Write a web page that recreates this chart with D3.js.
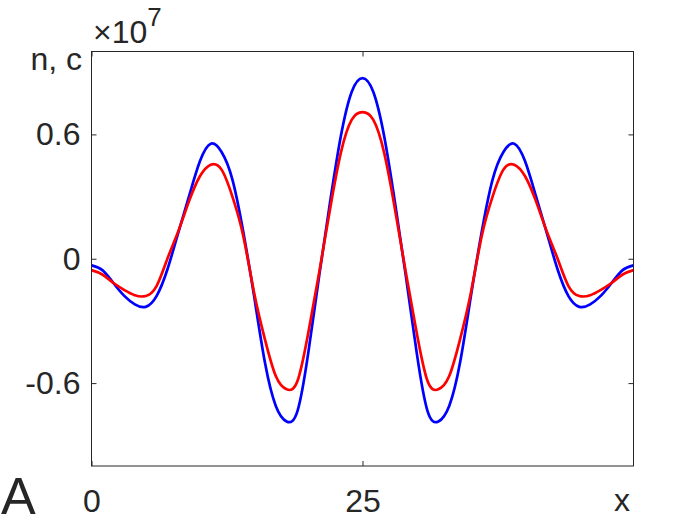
<!DOCTYPE html>
<html>
<head>
<meta charset="utf-8">
<script src="https://cdn.jsdelivr.net/npm/d3@7"></script>
<style>
  body { margin: 0; background: #fff; }
  svg { display: block; }
  text { font-family: "Liberation Sans", Arial, Helvetica, sans-serif; fill: #262626; }
</style>
</head>
<body>
<svg id="chart" width="700" height="525"></svg>
<script>
// x positions along the domain
const xs = d3.range(0, 51);

// n (blue), units of 1e7
const nVals = [-0.032, -0.055, -0.116, -0.178, -0.220, -0.232, -0.180, -0.052, 0.125, 0.302,
  0.470, 0.555, 0.515, 0.382, 0.130, -0.180, -0.501, -0.710, -0.785, -0.735,
  -0.453, -0.084, 0.270, 0.591, 0.805, 0.872, 0.805, 0.591, 0.270, -0.084,
  -0.453, -0.735, -0.785, -0.710, -0.501, -0.180, 0.130, 0.382, 0.515, 0.555,
  0.470, 0.302, 0.125, -0.052, -0.180, -0.232, -0.220, -0.178, -0.116, -0.055, -0.032];

// c (red), units of 1e7
const cVals = [-0.055, -0.076, -0.116, -0.150, -0.176, -0.180, -0.132, 0.000, 0.132, 0.278,
  0.398, 0.454, 0.430, 0.300, 0.110, -0.164, -0.389, -0.566, -0.630, -0.590,
  -0.357, -0.067, 0.238, 0.511, 0.670, 0.707, 0.670, 0.511, 0.238, -0.067,
  -0.357, -0.590, -0.630, -0.566, -0.389, -0.164, 0.110, 0.300, 0.430, 0.454,
  0.398, 0.278, 0.132, 0.000, -0.132, -0.180, -0.176, -0.150, -0.116, -0.076, -0.055];

const xTicks = [0, 25];
const xTickLabels = ["0", "25"];
const yTicks = [-0.6, 0, 0.6];
const yTickLabels = ["-0.6", "0", "0.6"];

let svg = d3.select("#chart"),
    margin = {top: 51.5, right: 66.5, bottom: 59, left: 91.5},
    width = 700 - margin.left - margin.right,
    height = 525 - margin.top - margin.bottom,
    axisColor = "#262626",
    fontSize = "32px",
    g = svg.append("g").attr("transform", "translate(" + margin.left + "," + margin.top + ")");

let x = d3.scaleLinear().domain([0, 50]).range([0, width]);
let y = d3.scaleLinear().domain([-1, 1]).range([height, 0]);

// clip so curves stay in the box
g.append("clipPath").attr("id", "clip")
  .append("rect").attr("width", width).attr("height", height);

let line = d3.line()
  .x((d, i) => x(xs[i]))
  .y(d => y(d))
  .curve(d3.curveNatural);

g.append("path")
  .datum(nVals)
  .attr("clip-path", "url(#clip)")
  .attr("fill", "none")
  .attr("stroke", "#0000ff")
  .attr("stroke-width", 2.7)
  .attr("d", line);

g.append("path")
  .datum(cVals)
  .attr("clip-path", "url(#clip)")
  .attr("fill", "none")
  .attr("stroke", "#ff0000")
  .attr("stroke-width", 2.7)
  .attr("d", line);

// axes, ticks pointing inward (matlab style)
let xAxis = d3.axisBottom(x).tickValues(xTicks)
  .tickFormat((d, i) => xTickLabels[i]).tickSizeInner(-5).tickSizeOuter(0).tickPadding(23);
let yAxis = d3.axisLeft(y).tickValues(yTicks)
  .tickFormat((d, i) => yTickLabels[i]).tickSizeInner(-5).tickSizeOuter(0).tickPadding(11);

let gx = g.append("g").attr("transform", "translate(0," + height + ")").call(xAxis);
let gy = g.append("g").call(yAxis);
// mirrored ticks on top and right
let gxTop = g.append("g").call(d3.axisTop(x).tickValues(xTicks).tickSizeInner(-5).tickSizeOuter(0).tickFormat(""));
let gyRight = g.append("g").attr("transform", "translate(" + width + ",0)")
  .call(d3.axisRight(y).tickValues(yTicks).tickSizeInner(-5).tickSizeOuter(0).tickFormat(""));

[gx, gy, gxTop, gyRight].forEach(a => {
  a.select(".domain").remove();
  a.selectAll("line").attr("stroke", axisColor).attr("stroke-width", 1);
  a.selectAll("text").attr("font-size", fontSize).attr("font-family", null).attr("fill", axisColor);
});

// box
g.append("rect")
  .attr("width", width).attr("height", height)
  .attr("fill", "none").attr("stroke", axisColor).attr("stroke-width", 1);

// labels
svg.append("text").attr("x", 82).attr("y", 70).attr("text-anchor", "end")
  .attr("font-size", fontSize).text("n, c");

svg.append("text").attr("x", 622).attr("y", 511).attr("text-anchor", "middle")
  .attr("font-size", fontSize).text("x");

let expo = svg.append("text").attr("x", 93).attr("y", 43).attr("font-size", fontSize);
expo.append("tspan").text("×");
expo.append("tspan").text("10");
expo.append("tspan").attr("dy", -17).attr("font-size", "26px").text("7");

svg.append("text").attr("x", 1).attr("y", 514).attr("font-size", "52px").text("A");
</script>
</body>
</html>
